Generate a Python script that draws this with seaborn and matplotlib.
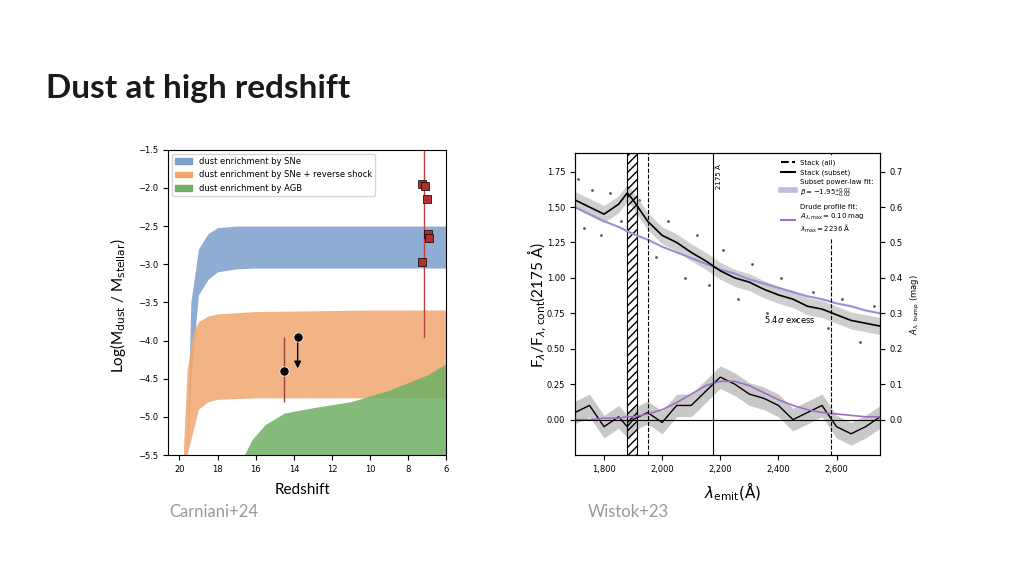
import matplotlib
matplotlib.use("Agg")
import matplotlib.pyplot as plt
import seaborn as sns
import numpy as np
import pandas as pd
from matplotlib.patches import Patch
from matplotlib.lines import Line2D

# ---- left panel data (Carniani+24) ----
sne_z = [19.6, 19.4, 19.0, 18.5, 18, 17, 16, 14, 10, 6]
sne_top = [-5.5, -3.5, -2.8, -2.6, -2.52, -2.5, -2.5, -2.5, -2.5, -2.5]
sne_bot = [-5.5, -4.5, -3.4, -3.2, -3.1, -3.06, -3.05, -3.05, -3.05, -3.05]
rs_z = [19.8, 19.6, 19.3, 19, 18.5, 18, 16, 10, 6]
rs_top = [-5.5, -4.4, -3.9, -3.75, -3.68, -3.65, -3.62, -3.6, -3.6]
rs_bot = [-5.5, -5.5, -5.2, -4.9, -4.8, -4.77, -4.75, -4.75, -4.75]
agb_z = [16.6, 16.2, 15.5, 14.5, 13, 11, 9, 7, 6]
agb_top = [-5.5, -5.3, -5.1, -4.95, -4.88, -4.8, -4.65, -4.45, -4.3]
black_z = [14.5, 13.8]
black_y = [-4.4, -3.95]
red_z = [7.3, 7.15, 7.0, 6.95, 6.9, 7.3]
red_y = [-1.95, -1.97, -2.15, -2.6, -2.65, -2.97]

# ---- right panel data (Witstok+23) ----
wl = [1700, 1750, 1800, 1850, 1880, 1900, 1950, 2000, 2050, 2100, 2150, 2200, 2250, 2300,
      2350, 2400, 2450, 2500, 2550, 2600, 2650, 2700, 2750]
stack = [1.55, 1.5, 1.45, 1.52, 1.6, 1.55, 1.4, 1.3, 1.25, 1.18, 1.12, 1.05, 1.0, 0.97,
         0.92, 0.88, 0.85, 0.8, 0.78, 0.74, 0.7, 0.68, 0.66]
powerlaw = [1.5, 1.45, 1.4, 1.36, 1.33, 1.31, 1.27, 1.22, 1.18, 1.14, 1.1, 1.06, 1.03, 0.99,
            0.96, 0.93, 0.9, 0.87, 0.85, 0.82, 0.8, 0.77, 0.75]
resid = [0.05, 0.1, -0.05, 0.02, -0.05, 0.0, 0.05, -0.02, 0.1, 0.1, 0.2, 0.3, 0.25, 0.18,
         0.15, 0.1, 0.0, 0.05, 0.1, -0.05, -0.1, -0.05, 0.02]
drude = [0.0, 0.0, 0.01, 0.01, 0.02, 0.02, 0.04, 0.07, 0.12, 0.18, 0.24, 0.27, 0.27, 0.24,
         0.19, 0.14, 0.1, 0.07, 0.05, 0.04, 0.03, 0.02, 0.02]
scat_wl = [1710, 1730, 1760, 1790, 1820, 1860, 1920, 1980, 2020, 2080, 2120, 2160, 2210,
           2260, 2310, 2360, 2410, 2460, 2520, 2570, 2620, 2680, 2730]
scat_y = [1.7, 1.35, 1.62, 1.3, 1.6, 1.4, 1.55, 1.15, 1.4, 1.0, 1.3, 0.95, 1.2, 0.85,
          1.1, 0.75, 1.0, 0.7, 0.9, 0.65, 0.85, 0.55, 0.8]

fig = plt.figure(figsize=(10.24, 5.76), dpi=100)
fig.patch.set_facecolor("white")
fig.text(0.045, 0.83, "Dust at high redshift", fontsize=24, fontweight="bold",
         family="Lato", color="#1a1a1a")

# left
ax = fig.add_axes([0.164, 0.21, 0.272, 0.53])
ax.fill_between(sne_z, sne_bot, sne_top, color="#7b9fcc", alpha=0.85, lw=0)
ax.fill_between(rs_z, rs_bot, rs_top, color="#f0a76e", alpha=0.85, lw=0)
ax.fill_between(agb_z, [-5.5]*len(agb_z), agb_top, color="#6fb064", alpha=0.85, lw=0)
ax.errorbar(black_z[0], black_y[0], yerr=[[0.4], [0.45]], fmt="none", ecolor="#9a4040", lw=1)
ax.annotate("", xy=(black_z[1], -4.4), xytext=(black_z[1], black_y[1]),
            arrowprops=dict(arrowstyle="-|>", color="black", lw=1))
sns.scatterplot(x=black_z, y=black_y, ax=ax, color="black", s=45, zorder=5)
ax.plot([7.2, 7.2], [-1.5, -3.95], color="#c04040", lw=1)
sns.scatterplot(x=red_z, y=red_y, ax=ax, color="#b03030", marker="s", s=40,
                edgecolor="black", zorder=5)
ax.set_xlim(20.6, 6)
ax.set_ylim(-5.5, -1.5)
ax.set_xticks([20, 18, 16, 14, 12, 10, 8, 6])
ax.tick_params(labelsize=6)
ax.legend(handles=[Patch(color="#7b9fcc", label="dust enrichment by SNe"),
                   Patch(color="#f0a76e", label="dust enrichment by SNe + reverse shock"),
                   Patch(color="#6fb064", label="dust enrichment by AGB")],
          loc="upper left", fontsize=6, frameon=True)
fig.text(0.115, 0.47, r"Log(M$_{\rm dust}$ / M$_{\rm stellar}$)", rotation=90,
         ha="center", va="center", fontsize=11, family="Lato")
fig.text(0.295, 0.142, "Redshift", ha="center", fontsize=11, family="Lato")
fig.text(0.165, 0.103, "Carniani+24", fontsize=12, color="#999999", family="Lato")

# right
ax2 = fig.add_axes([0.5615, 0.21, 0.298, 0.524])
sns.scatterplot(x=scat_wl, y=scat_y, ax=ax2, color="#555555", s=4, lw=0)
up = [v + 0.06 for v in stack]
lo = [v - 0.06 for v in stack]
ax2.fill_between(wl, lo, up, color="#bbbbbb", alpha=0.7, lw=0)
sns.lineplot(x=wl, y=powerlaw, ax=ax2, color="#9a8fd0", lw=1.5)
sns.lineplot(x=wl, y=stack, ax=ax2, color="black", lw=1.2)
ax2.fill_between(wl, [r - 0.08 for r in resid], [r + 0.08 for r in resid],
                 color="#bbbbbb", alpha=0.8, lw=0)
sns.lineplot(x=wl, y=resid, ax=ax2, color="black", lw=1)
sns.lineplot(x=wl, y=drude, ax=ax2, color="#a070c0", lw=1.2)
ax2.axhline(0, color="black", lw=0.8)
ax2.axvspan(1880, 1915, facecolor="none", hatch="////", edgecolor="black", lw=0.8)
ax2.axvline(1950, color="black", ls="--", lw=0.8)
ax2.axvline(2175, color="black", lw=0.8)
ax2.axvline(2580, color="black", ls="--", lw=0.8)
ax2.text(2182, 1.8, "2175 Å", rotation=90, fontsize=5, va="top")
ax2.text(2350, 0.68, r"5.4$\sigma$ excess", fontsize=6)
ax2.set_xlim(1700, 2750)
ax2.set_ylim(-0.25, 1.88)
ax2.set_xticks([1800, 2000, 2200, 2400, 2600])
ax2.set_xticklabels(["1,800", "2,000", "2,200", "2,400", "2,600"])
ax2.set_yticks([0, 0.25, 0.5, 0.75, 1.0, 1.25, 1.5, 1.75])
ax2.tick_params(labelsize=6)
ax3 = ax2.twinx()
ax3.set_ylim(-0.25 / 2.5, 1.88 / 2.5)
ax3.set_yticks([0, 0.1, 0.2, 0.3, 0.4, 0.5, 0.6, 0.7])
ax3.tick_params(labelsize=6)
ax3.set_ylabel(r"$A_{\lambda,\ \rm bump}$ (mag)", fontsize=6)
ax2.legend(handles=[Line2D([], [], color="black", ls="--", label="Stack (all)"),
                    Line2D([], [], color="black", label="Stack (subset)"),
                    Line2D([], [], color="#9a8fd0", lw=4, alpha=0.6,
                           label="Subset power-law fit:\n" + r"$\beta=-1.95^{+0.02}_{-0.02}$"),
                    Line2D([], [], color="#a070c0",
                           label="Drude profile fit:\n" + r"$A_{\lambda,\max}=0.10$ mag" + "\n"
                           + r"$\lambda_{\max}=2236$ Å")],
           loc="upper right", fontsize=5, frameon=True, facecolor="white", edgecolor="none",
           framealpha=1)
fig.text(0.525, 0.47, r"F$_\lambda$/F$_{\lambda,\rm cont}$(2175 Å)", rotation=90,
         ha="center", va="center", fontsize=11, family="Lato")
fig.text(0.715, 0.135, r"$\lambda_{\rm emit}$(Å)", ha="center", fontsize=11)
fig.text(0.574, 0.103, "Wistok+23", fontsize=12, color="#999999", family="Lato")

fig.savefig("out.png", dpi=100)
